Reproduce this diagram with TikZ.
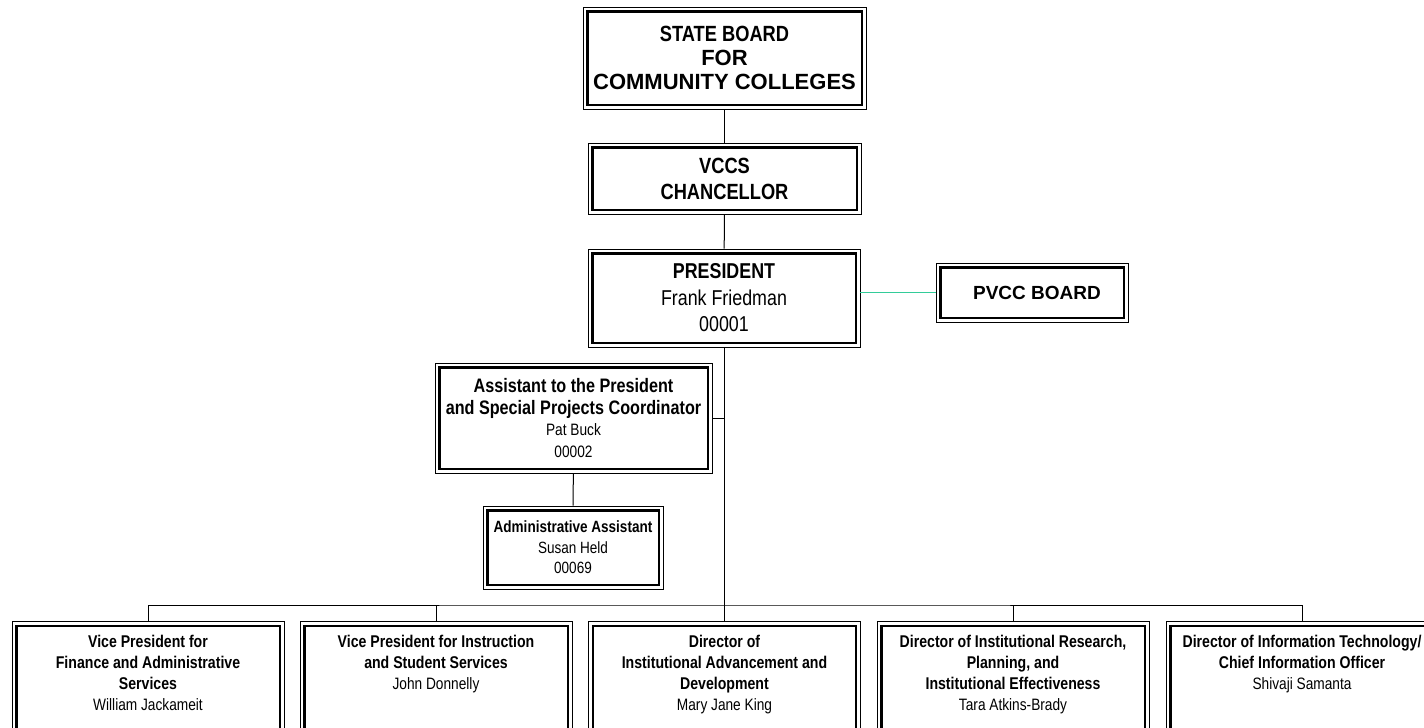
\documentclass[tikz,border=0pt]{standalone}
\usepackage{fontspec}
\setmainfont{Liberation Sans}
\newfontfamily\narrowfont[FakeStretch=0.83]{Liberation Sans}
\usetikzlibrary{positioning}
\definecolor{boardline}{RGB}{51,204,153}
\newcommand{\postitle}[1]{{\bfseries\fontsize{17}{21}\selectfont #1}}

\begin{document}
\begin{tikzpicture}[
  x=1pt, y=-1pt,
  frame/.style={rectangle, draw, line width=0.8pt, inner sep=0pt, align=center,
    path picture={\draw[line width=2.4pt]
      ([xshift=4.3pt,yshift=-4.3pt]path picture bounding box.north west) rectangle
      ([xshift=-4.3pt,yshift=4.3pt]path picture bounding box.south east);}},
  unit/.style={frame, minimum width=272, minimum height=140, anchor=north},
  txt/.style={align=center, inner sep=0pt, font=\narrowfont\fontsize{16.5}{21}\selectfont},
  e/.style={line width=1pt}
]
\useasboundingbox (0,0) rectangle (1424,728);

\node[frame, minimum width=283, minimum height=102, font=\fontsize{22}{24}\selectfont] (sbcc) at (724.5,58)
  {{\narrowfont\bfseries STATE BOARD}\\\textbf{FOR}\\\textbf{COMMUNITY COLLEGES}};
\node[frame, minimum width=273, minimum height=71, font=\narrowfont\bfseries\fontsize{22}{26}\selectfont] (vccs) at (724.5,178.5)
  {VCCS\\CHANCELLOR};
\node[frame, minimum width=272, minimum height=98, font=\narrowfont\fontsize{21.5}{26.5}\selectfont] (pres) at (724,298)
  {\textbf{PRESIDENT}\\Frank Friedman\\00001};
\node[frame, minimum width=192, minimum height=59, font=\bfseries\fontsize{19}{22}\selectfont] (pvcc) at (1032,292.5)
  {\hspace*{10pt}PVCC BOARD};
\node[frame, minimum width=277, minimum height=110, font=\narrowfont\fontsize{16.5}{21.5}\selectfont] (asst) at (573.5,418)
  {{\bfseries\fontsize{19.5}{21.5}\selectfont Assistant to the President}\\
   {\bfseries\fontsize{19.5}{21.5}\selectfont and Special Projects Coordinator}\\Pat Buck\\00002};
\node[frame, minimum width=180, minimum height=83, font=\narrowfont\fontsize{16.3}{20.5}\selectfont] (admin) at (573,547.5)
  {\textbf{Administrative Assistant}\\Susan Held\\00069};

% second row
\node[unit] (vpf) at (148,621) {};
\node[unit] (vpi) at (436,621) {};
\node[unit] (dia) at (724.5,621) {};
\node[unit] (dir) at (1013,621) {};
\node[unit] (dit) at (1302,621) {};

\node[txt, below=14pt of vpf.north] (vpf-t)
  {\postitle{Vice President for}\\\postitle{Finance and Administrative}\\\postitle{Services}\\William Jackameit};
\node[txt, below=14pt of vpi.north] (vpi-t)
  {\postitle{Vice President for Instruction}\\\postitle{and Student Services}\\John Donnelly};
\node[txt, below=14pt of dia.north] (dia-t)
  {\postitle{Director of}\\\postitle{Institutional Advancement and}\\\postitle{Development}\\Mary Jane King};
\node[txt, below=14pt of dir.north] (dir-t)
  {\postitle{Director of Institutional Research,}\\\postitle{Planning, and}\\\postitle{Institutional Effectiveness}\\Tara Atkins-Brady};
\node[txt, below=14pt of dit.north] (dit-t)
  {\postitle{Director of Information Technology/}\\\postitle{Chief Information Officer}\\Shivaji Samanta};

\coordinate (bus) at (724,605);

\draw[e] (sbcc) -- (vccs);
\draw[e] (vccs) -- (pres);
\draw[e, boardline] (pres.east |- pvcc.west) -- (pvcc.west);
\draw[e] (pres.south) -- (bus);
\draw[e] (asst.east) -- (asst.east -| pres.south);
\draw[e] (asst) -- (admin);
\draw[e] (vpf.north) |- (bus) -| (dit.north);
\foreach \n in {vpi, dia, dir}
  \draw[e] (\n.north) -- (\n.north |- bus);
\end{tikzpicture}
\end{document}
